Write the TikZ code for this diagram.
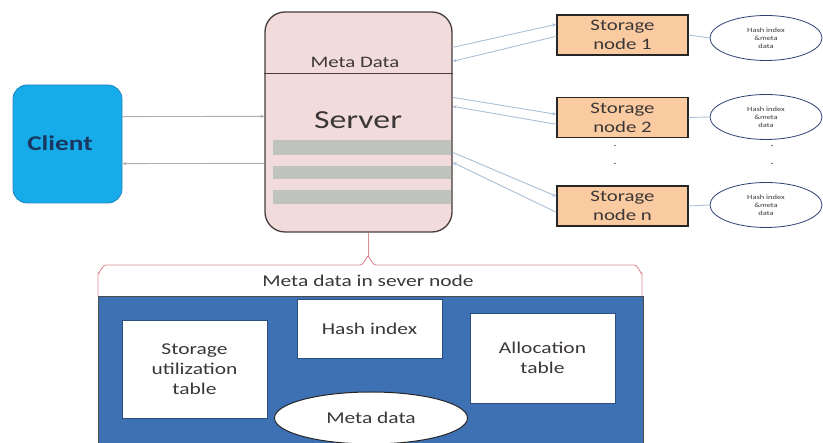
\documentclass[tikz,border=0pt]{standalone}
\usepackage{fontspec}
\setmainfont{Carlito}[FakeStretch=1.3]
\usetikzlibrary{shapes.geometric,arrows.meta}
\definecolor{clientfill}{RGB}{22,172,234}
\definecolor{clientdraw}{RGB}{40,130,190}
\definecolor{clienttext}{RGB}{25,55,95}
\definecolor{serverfill}{RGB}{242,220,219}
\definecolor{serverdraw}{RGB}{70,60,60}
\definecolor{bargrey}{RGB}{190,195,190}
\definecolor{storfill}{RGB}{250,202,160}
\definecolor{bluebg}{RGB}{62,112,180}
\definecolor{bracecol}{RGB}{222,140,150}
\definecolor{linkblue}{RGB}{170,192,215}
\definecolor{linkgrey}{RGB}{175,175,175}
\definecolor{ellborder}{RGB}{45,65,115}
\definecolor{txt}{RGB}{60,55,55}
\tikzset{
  clientbox/.style={draw=clientdraw,fill=clientfill,rounded corners=14pt,line width=0.8pt,minimum width=109pt,minimum height=118pt,inner sep=0pt},
  serverbox/.style={draw=serverdraw,fill=serverfill,rounded corners=20pt,line width=1.3pt,minimum width=187pt,minimum height=220pt,inner sep=0pt},
  storbox/.style={draw=black!85,fill=storfill,line width=1.4pt,minimum width=131pt,minimum height=40pt,inner sep=0pt,align=center,font=\fontsize{16}{19}\selectfont,text=txt},
  hashell/.style={ellipse,draw=ellborder,fill=white,line width=0.8pt,minimum width=112pt,minimum height=45pt,inner sep=0pt,align=center,font=\fontsize{6.5}{8}\selectfont,text=txt},
  innerbox/.style={draw=bluebg!70!black,fill=white,line width=0.6pt,inner sep=0pt,align=center,font=\fontsize{16.5}{20}\selectfont,text=txt},
  bar/.style={fill=bargrey,draw=none},
  blink/.style={draw=linkblue,line width=0.9pt,-{Stealth[length=4pt,width=3.5pt]}},
  glink/.style={draw=linkgrey,line width=0.9pt,-{Stealth[length=4pt,width=3.5pt]}},
  plink/.style={draw=linkblue,line width=0.9pt},
  bracestyle/.style={draw=bracecol,line width=0.9pt},
  dotstyle/.style={font=\fontsize{10}{10}\selectfont,text=txt}
}
\begin{document}
\begin{tikzpicture}[x=1pt,y=-1pt]
\useasboundingbox (0,0) rectangle (823,443);
% client
\node[clientbox] (client) at (67.5,144) {};
\node[font=\fontsize{21}{24}\selectfont\bfseries,text=clienttext] (clientlbl) at (60,143) {Client};
% server
\node[serverbox] (server) at (358.5,122) {};
\draw[serverdraw,line width=0.8pt] (server.west |- 0,73) -- (server.east |- 0,73);
\node[font=\fontsize{16}{19}\selectfont,text=txt] (mdlbl) at (355,62) {Meta Data};
\node[font=\fontsize{26}{30}\selectfont,text=txt] (srvlbl) at (358,120) {Server};
\fill[bar] (273,140) rectangle (451,155);
\fill[bar] (273,166) rectangle (451,179);
\fill[bar] (273,190) rectangle (451,204);
% storage nodes
\node[storbox] (sn1) at (622.5,35) {Storage\\node 1};
\node[storbox] (sn2) at (622.5,117.5) {Storage\\node 2};
\node[storbox] (snn) at (622.5,206) {Storage\\node n};
\node[hashell] (h1) at (766,38) {Hash index\\\&meta\\data};
\node[hashell] (h2) at (766,117) {Hash index\\\&meta\\data};
\node[hashell] (hn) at (766,205) {Hash index\\\&meta\\data};
\draw[plink] (sn1.east) -- (h1.west);
\draw[plink] (sn2.east) -- (h2.west);
\draw[plink] (snn.east) -- (hn.west);
\node[dotstyle] (d1) at (615,146) {.};
\node[dotstyle] (d2) at (615,164) {.};
\node[dotstyle] (d3) at (772,146) {.};
\node[dotstyle] (d4) at (772,164) {.};
% server <-> storage links
\draw[blink] ([yshift=-36pt]server.north east) -- ([yshift=-10pt]sn1.north west);
\draw[blink] ([yshift=-22pt]sn1.north west) -- ([yshift=-50pt]server.north east);
\draw[blink] ([yshift=-86pt]server.north east) -- ([yshift=-17.5pt]sn2.north west);
\draw[blink] ([yshift=-27.5pt]sn2.north west) -- ([yshift=-95pt]server.north east);
\draw[blink] ([yshift=-141pt]server.north east) -- ([yshift=-11pt]snn.north west);
\draw[blink] ([yshift=-27pt]snn.north west) -- ([yshift=-151pt]server.north east);
% client <-> server links
\draw[glink] ([yshift=-32pt]client.north east) -- ([yshift=-105pt]server.north west);
\draw[glink] ([yshift=-152pt]server.north west) -- ([yshift=-79pt]client.north east);
% bottom panel
\fill[bluebg] (98,297) rectangle (643,450);
\draw[black!70,line width=1pt] (98,450) -- (98,297) -- (643,297) -- (643,450);
\coordinate (tip) at (368,257);
\draw[bracestyle] ([xshift=9.5pt]server.south) -- (tip);
\draw[bracestyle] (98,296) -- (98,273) to[out=-90,in=180] (106,265) -- (360,265) to[out=0,in=90] (tip) to[out=90,in=180] (376,265) -- (634,265) to[out=0,in=-90] (642,273) -- (642,296);
\node[font=\fontsize{16.5}{20}\selectfont,text=txt] (mdsn) at (368,281) {Meta data in sever node};
\node[innerbox,minimum width=145pt,minimum height=98pt] (sut) at (194.5,369) {Storage\\utilization\\table};
\node[innerbox,minimum width=145pt,minimum height=59pt] (hix) at (369.5,328.5) {Hash index};
\node[innerbox,minimum width=145pt,minimum height=90pt] (alt) at (542.5,358) {Allocation\\table};
\node[ellipse,draw=black!85,fill=white,line width=1pt,minimum width=193pt,minimum height=52pt,inner sep=0pt,font=\fontsize{16.5}{20}\selectfont,text=txt] (md) at (371,418) {Meta data};
\end{tikzpicture}
\end{document}
